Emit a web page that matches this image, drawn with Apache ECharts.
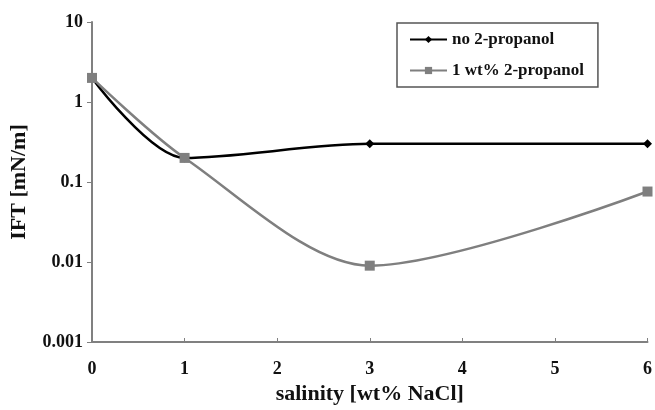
<!DOCTYPE html>
<html>
<head>
<meta charset="utf-8">
<script src="https://cdn.jsdelivr.net/npm/echarts@6/dist/echarts.min.js"></script>
<style>
html, body { margin: 0; padding: 0; background: #fff; }
#main { width: 655px; height: 410px; }
</style>
</head>
<body>
<div id="main"></div>
<script>
// salinity [wt% NaCl] vs IFT [mN/m]
var salinity = [0, 1, 3, 6];
var noPropanol = [2, 0.2, 0.3, 0.3];
var withPropanol = [2, 0.2, 0.009, 0.076];
var yTicks = [0.001, 0.01, 0.1, 1, 10];

function pairs(xs, ys) {
    return xs.map(function (x, i) { return [x, ys[i]]; });
}

var FONT = '"Liberation Serif", "DejaVu Serif", serif';

window.addEventListener("load", function () {
    var chart = echarts.init(document.getElementById('main'));

    var option = {
        animation: false,
        backgroundColor: '#fff',
        grid: { left: 91, right: 6, top: 22, bottom: 68 },
        legend: {
            orient: 'vertical',
            left: 397,
            top: 23,
            width: 208,
            padding: [8, 14, 8, 12],
            itemGap: 14,
            itemWidth: 37,
            itemHeight: 9,
            borderColor: '#555',
            borderWidth: 1.5,
            textStyle: { fontFamily: FONT, fontWeight: 'bold', fontSize: 17, color: '#111' },
            data: ['no 2-propanol', '1 wt% 2-propanol']
        },
        xAxis: {
            type: 'value',
            min: 0,
            max: 6,
            interval: 1,
            name: 'salinity [wt% NaCl]',
            nameLocation: 'middle',
            nameGap: 40,
            nameTextStyle: { fontFamily: FONT, fontWeight: 'bold', fontSize: 22, color: '#111' },
            axisLine: { lineStyle: { color: '#808080', width: 2 } },
            axisTick: { inside: true, length: 4, lineStyle: { color: '#808080' } },
            axisLabel: { fontFamily: FONT, fontWeight: 'bold', fontSize: 18, color: '#111', margin: 18 },
            splitLine: { show: false }
        },
        yAxis: {
            type: 'log',
            logBase: 10,
            min: yTicks[0],
            max: yTicks[yTicks.length - 1],
            name: 'IFT [mN/m]',
            nameLocation: 'middle',
            nameGap: 62,
            nameRotate: 90,
            nameTextStyle: { fontFamily: FONT, fontWeight: 'bold', fontSize: 22, color: '#111' },
            axisLine: { show: true, lineStyle: { color: '#808080', width: 2 } },
            axisTick: { show: true, length: 5, lineStyle: { color: '#808080' } },
            axisLabel: {
                fontFamily: FONT, fontWeight: 'bold', fontSize: 18, color: '#111', margin: 9,
                formatter: function (v) { return String(+v.toPrecision(3)); }
            },
            minorTick: { show: false },
            splitLine: { show: false }
        },
        series: [
            {
                name: 'no 2-propanol',
                type: 'line',
                smooth: 0.3,
                symbol: 'diamond',
                symbolSize: 9,
                itemStyle: { color: '#000' },
                lineStyle: { color: '#000', width: 2.5 },
                data: pairs(salinity, noPropanol),
                z: 2
            },
            {
                name: '1 wt% 2-propanol',
                type: 'line',
                smooth: 0.3,
                symbol: 'rect',
                symbolSize: 10,
                itemStyle: { color: '#7f7f7f' },
                lineStyle: { color: '#7f7f7f', width: 2.5 },
                data: pairs(salinity, withPropanol),
                z: 3
            }
        ]
    };

    chart.setOption(option);
}, false);
</script>
</body>
</html>
